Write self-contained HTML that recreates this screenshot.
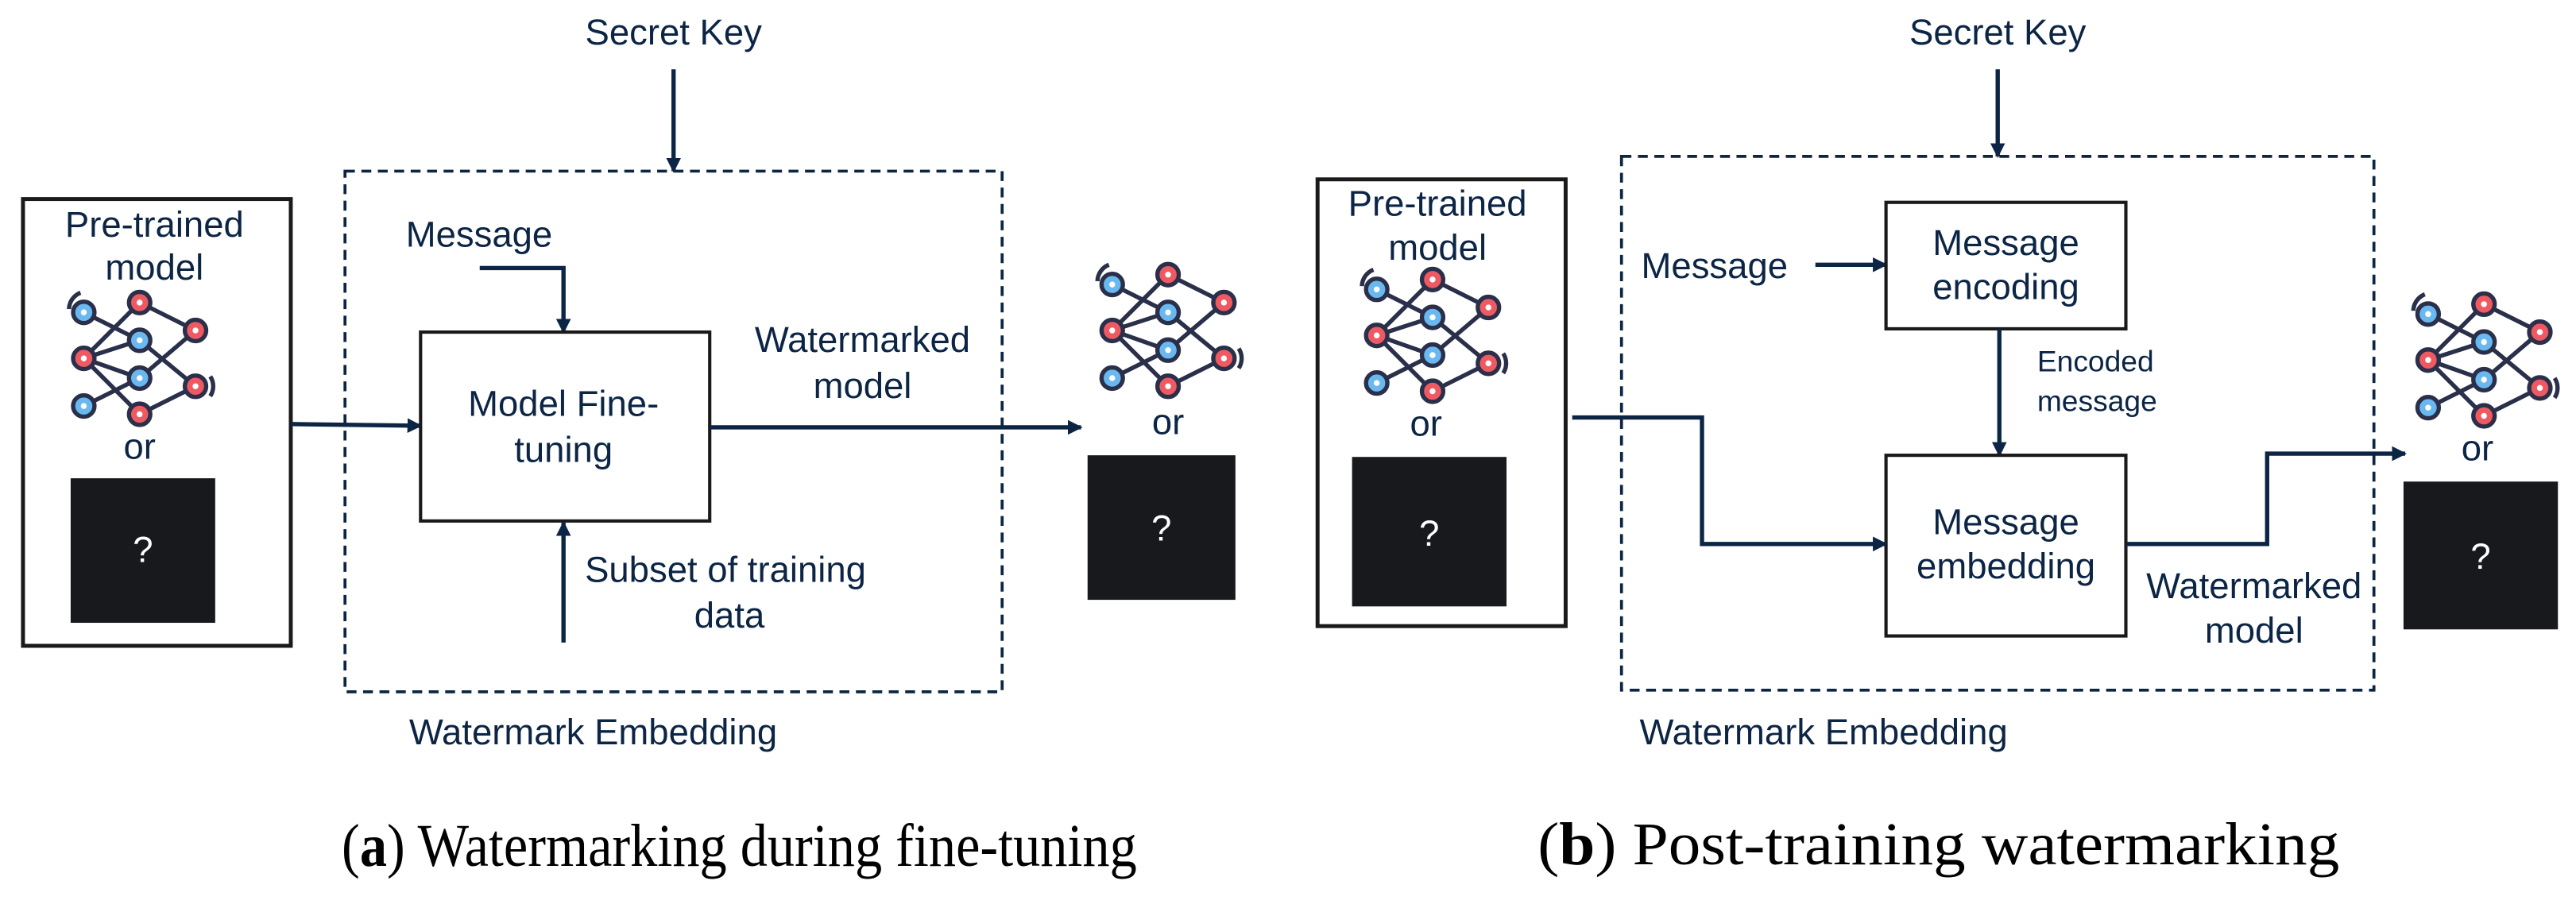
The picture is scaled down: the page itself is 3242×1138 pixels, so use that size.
<!DOCTYPE html>
<html><head><meta charset="utf-8"><style>
html,body{margin:0;padding:0;background:#fff;}
svg{display:block;}
.t{font-family:"Liberation Sans",Arial,sans-serif;fill:#0c2545;font-size:22px;}
.q{font-family:"Liberation Sans",Arial,sans-serif;fill:#fff;font-size:22px;}
.c{font-family:"Liberation Serif",serif;fill:#000;font-size:37px;}
</style></head><body>
<svg width="3242" height="1138" viewBox="0 0 1568 550" xmlns="http://www.w3.org/2000/svg">
<defs>
<marker id="ah" markerWidth="10" markerHeight="10" refX="8" refY="5" orient="auto" markerUnits="userSpaceOnUse">
<path d="M0,0.5 L9,5 L0,9.5 Z" fill="#0c2545"/>
</marker>
<g id="net">
<g stroke="#2a2f4a" stroke-width="2.6" fill="none">
<line x1="51" y1="190" x2="85" y2="207"/>
<line x1="85" y1="184" x2="51" y2="218"/>
<line x1="85" y1="184" x2="119" y2="201"/>
<line x1="51" y1="218" x2="85" y2="207"/>
<line x1="51" y1="218" x2="85" y2="230"/>
<line x1="51" y1="218" x2="85" y2="252"/>
<line x1="85" y1="207" x2="119" y2="235"/>
<line x1="85" y1="230" x2="119" y2="201"/>
<line x1="51" y1="247" x2="85" y2="230"/>
<line x1="85" y1="252" x2="119" y2="235"/>
<path d="M42,188 A11,11 0 0 1 49,178"/>
<path d="M128,229 A11,11 0 0 1 128,241"/>
</g>
<g stroke="#2a2f4a" stroke-width="2.6">
<circle cx="51" cy="190" r="6.5" fill="#6ab8f0"/>
<circle cx="85" cy="207" r="6.5" fill="#6ab8f0"/>
<circle cx="85" cy="230" r="6.5" fill="#6ab8f0"/>
<circle cx="51" cy="247" r="6.5" fill="#6ab8f0"/>
<circle cx="85" cy="184" r="6.5" fill="#ef5a62"/>
<circle cx="51" cy="218" r="6.5" fill="#ef5a62"/>
<circle cx="119" cy="201" r="6.5" fill="#ef5a62"/>
<circle cx="119" cy="235" r="6.5" fill="#ef5a62"/>
<circle cx="85" cy="252" r="6.5" fill="#ef5a62"/>
</g>
<g fill="#fff">
<circle cx="51" cy="190" r="1.8"/><circle cx="85" cy="207" r="1.8"/><circle cx="85" cy="230" r="1.8"/><circle cx="51" cy="247" r="1.8"/>
<circle cx="85" cy="184" r="1.8"/><circle cx="51" cy="218" r="1.8"/><circle cx="119" cy="201" r="1.8"/><circle cx="119" cy="235" r="1.8"/><circle cx="85" cy="252" r="1.8"/>
</g>
</g>
</defs>

<!-- ========== (a) ========== -->
<text class="t" x="410" y="27" text-anchor="middle">Secret Key</text>
<line x1="410" y1="42" x2="410" y2="104" stroke="#0c2545" stroke-width="2.6" marker-end="url(#ah)"/>
<rect x="210" y="104" width="400" height="317" fill="none" stroke="#0c2545" stroke-width="1.8" stroke-dasharray="6,4"/>

<rect x="14" y="121" width="163" height="272" fill="none" stroke="#1a1a1a" stroke-width="2.4"/>
<text class="t" x="94" y="144" text-anchor="middle">Pre-trained</text>
<text class="t" x="94" y="170" text-anchor="middle">model</text>
<use href="#net"/>
<text class="t" x="85" y="279" text-anchor="middle">or</text>
<rect x="43" y="291" width="88" height="88" fill="#18191d"/>
<text class="q" x="87" y="342" text-anchor="middle">?</text>

<polyline points="177,258 256,259" fill="none" stroke="#0c2545" stroke-width="2.6" marker-end="url(#ah)"/>

<text class="t" x="247" y="150">Message</text>
<polyline points="292,163 343,163 343,202" fill="none" stroke="#0c2545" stroke-width="2.6" marker-end="url(#ah)"/>

<rect x="256" y="202" width="176" height="115" fill="#fff" stroke="#1a1a1a" stroke-width="2"/>
<text class="t" x="343" y="253" text-anchor="middle">Model Fine-</text>
<text class="t" x="343" y="281" text-anchor="middle">tuning</text>

<line x1="343" y1="391" x2="343" y2="318" stroke="#0c2545" stroke-width="2.6" marker-end="url(#ah)"/>
<text class="t" x="356" y="354">Subset of training</text>
<text class="t" x="444" y="382" text-anchor="middle">data</text>

<text class="t" x="525" y="214" text-anchor="middle">Watermarked</text>
<text class="t" x="525" y="242" text-anchor="middle">model</text>
<line x1="432" y1="260" x2="658" y2="260" stroke="#0c2545" stroke-width="2.6" marker-end="url(#ah)"/>

<use href="#net" transform="translate(626,-17)"/>
<text class="t" x="711" y="264" text-anchor="middle">or</text>
<rect x="662" y="277" width="90" height="88" fill="#18191d"/>
<text class="q" x="707" y="329" text-anchor="middle">?</text>

<text class="t" x="249" y="453">Watermark Embedding</text>
<text class="c" x="208" y="527" textLength="484" lengthAdjust="spacingAndGlyphs">(<tspan font-weight="bold">a</tspan>) Watermarking during fine-tuning</text>

<!-- ========== (b) ========== -->
<text class="t" x="1216" y="27" text-anchor="middle">Secret Key</text>
<line x1="1216" y1="42" x2="1216" y2="95" stroke="#0c2545" stroke-width="2.6" marker-end="url(#ah)"/>
<rect x="987" y="95" width="458" height="325" fill="none" stroke="#0c2545" stroke-width="1.8" stroke-dasharray="6,4"/>

<rect x="802" y="109" width="151" height="272" fill="none" stroke="#1a1a1a" stroke-width="2.4"/>
<text class="t" x="875" y="131" text-anchor="middle">Pre-trained</text>
<text class="t" x="875" y="158" text-anchor="middle">model</text>
<use href="#net" transform="translate(787,-14)"/>
<text class="t" x="868" y="265" text-anchor="middle">or</text>
<rect x="823" y="278" width="94" height="91" fill="#18191d"/>
<text class="q" x="870" y="332" text-anchor="middle">?</text>

<text class="t" x="999" y="169">Message</text>
<line x1="1105" y1="161" x2="1148" y2="161" stroke="#0c2545" stroke-width="2.6" marker-end="url(#ah)"/>

<rect x="1148" y="123" width="146" height="77" fill="#fff" stroke="#1a1a1a" stroke-width="2"/>
<text class="t" x="1221" y="155" text-anchor="middle">Message</text>
<text class="t" x="1221" y="182" text-anchor="middle">encoding</text>

<line x1="1217" y1="200" x2="1217" y2="277" stroke="#0c2545" stroke-width="2.6" marker-end="url(#ah)"/>
<text class="t" x="1240" y="226" style="font-size:18px">Encoded</text>
<text class="t" x="1240" y="250" style="font-size:18px">message</text>

<rect x="1148" y="277" width="146" height="110" fill="#fff" stroke="#1a1a1a" stroke-width="2"/>
<text class="t" x="1221" y="325" text-anchor="middle">Message</text>
<text class="t" x="1221" y="352" text-anchor="middle">embedding</text>

<polyline points="957,254 1036,254 1036,331 1148,331" fill="none" stroke="#0c2545" stroke-width="2.6" marker-end="url(#ah)"/>
<polyline points="1294,331 1380,331 1380,276 1464,276" fill="none" stroke="#0c2545" stroke-width="2.6" marker-end="url(#ah)"/>

<text class="t" x="1372" y="364" text-anchor="middle">Watermarked</text>
<text class="t" x="1372" y="391" text-anchor="middle">model</text>

<use href="#net" transform="translate(1427,1)"/>
<text class="t" x="1508" y="280" text-anchor="middle">or</text>
<rect x="1463" y="293" width="94" height="90" fill="#18191d"/>
<text class="q" x="1510" y="346" text-anchor="middle">?</text>

<text class="t" x="998" y="453">Watermark Embedding</text>
<text class="c" x="936" y="526" textLength="488" lengthAdjust="spacingAndGlyphs">(<tspan font-weight="bold">b</tspan>) Post-training watermarking</text>
</svg>
</body></html>
